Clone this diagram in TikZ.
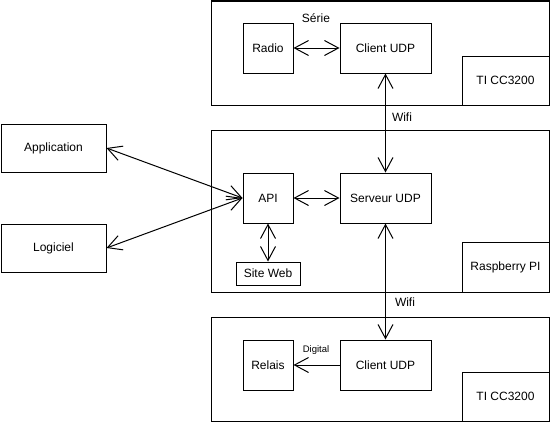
\documentclass[tikz,border=0pt]{standalone}
\usepackage{fontspec}
\setmainfont{Liberation Sans}
\usetikzlibrary{arrows.meta}

\begin{document}
\begin{tikzpicture}[x=1pt, y=-1pt,
	every node/.style={font=\fontsize{12}{14}\selectfont},
	box/.style={draw, line width=1pt, fill=white, inner sep=0pt},
	frame/.style={draw, line width=1pt, inner sep=0pt},
	barb/.tip={Straight Barb[length=14pt, width=15pt, line width=1pt]},
	link/.style={line width=1pt, barb-barb},
	tolink/.style={line width=1pt, -barb}]
	\useasboundingbox (0,0) rectangle (550,423);
	
	% les trois blocs
	\node[frame, minimum width=338pt, minimum height=104pt] (cardTop) at (380,53) {};
	\node[frame, minimum width=338pt, minimum height=162pt] (raspBlock) at (380,211) {};
	\node[frame, minimum width=338pt, minimum height=104pt] (cardBot) at (380,369) {};
	
	\node[box, minimum width=87pt, minimum height=49pt] (tiTop) at (505.5,80.5) {TI CC3200};
	\node[box, minimum width=87pt, minimum height=50pt] (raspi) at (505.5,267) {Raspberry PI};
	\node[box, minimum width=87pt, minimum height=49pt] (tiBot) at (505.5,396.5) {TI CC3200};
	
	% boites internes
	\foreach \name/\x/\y/\w/\txt in {radio/268/48/50/Radio, clientTop/385.5/48/91/Client UDP,
		api/268/198/50/API, serveur/385.5/198/91/Serveur UDP,
		relais/268/365/50/Relais, clientBot/385.5/365/91/Client UDP}
	\node[box, minimum width=\w pt, minimum height=50pt] (\name) at (\x,\y) {\txt};
	
	\node[box, minimum width=64pt, minimum height=23pt] (siteWeb) at (268,273.5) {Site Web};
	\node[box, minimum width=105pt, minimum height=48pt] (appli) at (53.5,148) {Application};
	\node[box, minimum width=105pt, minimum height=48pt] (logiciel) at (53.5,248) {Logiciel};
	
	% liaisons
	\draw[link] (radio) -- (clientTop);
	\draw[link] (serveur.north) -- (clientTop.south);
	\draw[link] (appli.east) -- (api.west);
	\draw[link] (logiciel.east) -- (api.west);
	\draw[link] (api) -- (serveur);
	\draw[link] (api.south) -- (siteWeb.north);
	\draw[link] (serveur.south) -- (clientBot.north);
	\draw[tolink] (clientBot) -- (relais);
	
	\node (serie) at (316,18) {Série};
	\node (wifiTop) at (402,117) {Wifi};
	\node (wifiBot) at (405,302) {Wifi};
	\node[font=\fontsize{9.5}{11}\selectfont] (digital) at (316,350) {Digital};
\end{tikzpicture}
\end{document}
